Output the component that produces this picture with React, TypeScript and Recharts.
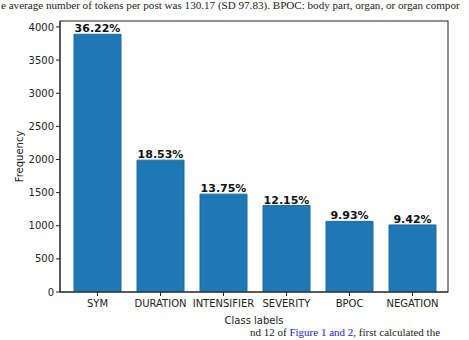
import { FC } from "react";
import * as Recharts from "recharts";
import {
  BarChart,
  Bar,
  XAxis,
  YAxis,
  LabelList,
} from "recharts";

const classLabels = ["SYM", "DURATION", "INTENSIFIER", "SEVERITY", "BPOC", "NEGATION"];
const frequencies = [3890, 1990, 1477, 1305, 1066, 1012];
const shares = ["36.22%", "18.53%", "13.75%", "12.15%", "9.93%", "9.42%"];
const yTicks = [0, 500, 1000, 1500, 2000, 2500, 3000, 3500, 4000];

const data = classLabels.map((name, i) => ({
  name,
  freq: frequencies[i],
  share: shares[i],
}));

const font = "'DejaVu Sans', sans-serif";
const tickStyle = { fontSize: 10, fill: "#222", fontFamily: font };

// box around the plot area, like matplotlib's spines
const Frame: FC = () => {
  const usePlot = (Recharts as any).usePlotArea || (Recharts as any).useOffset;
  const area = usePlot ? usePlot() : null;
  if (!area) return null;
  const x = area.x ?? area.left;
  const y = area.y ?? area.top;
  const w = area.width;
  const h = area.height;
  if (w == null || h == null) return null;
  return <rect x={x} y={y} width={w} height={h} fill="none" stroke="#222" strokeWidth={1} />;
};

const App: FC = () => {
  return (
    <div
      style={{
        position: "absolute",
        left: 0,
        top: 0,
        width: 469,
        height: 340,
        overflow: "hidden",
        background: "#fff",
      }}
    >
      <div
        style={{
          position: "absolute",
          left: 1,
          top: -1,
          whiteSpace: "nowrap",
          fontFamily: "'Liberation Serif', serif",
          fontSize: 11.1,
          color: "#222",
        }}
      >
        e average number of tokens per post was 130.17 (SD 97.83). BPOC: body part, organ, or organ compor
      </div>
      <div
        style={{
          position: "absolute",
          left: 250,
          top: 326,
          whiteSpace: "nowrap",
          fontFamily: "'Liberation Serif', serif",
          fontSize: 11,
          color: "#222",
        }}
      >
        nd 12 of <span style={{ color: "#2222cc" }}>Figure 1 and 2</span>, first calculated the
      </div>
      <div style={{ position: "absolute", left: 0, top: 0 }}>
        <BarChart
          width={469}
          height={340}
          data={data}
          margin={{ top: 21, right: 21, bottom: 0, left: 0 }}
        >
          <XAxis
            dataKey="name"
            height={48}
            padding={{ left: 6, right: 4 }}
            tick={{ ...tickStyle, dy: 2 }}
            tickSize={4}
            tickLine={{ stroke: "#222" }}
            axisLine={{ stroke: "#222" }}
            interval={0}
            label={{
              value: "Class labels",
              position: "insideBottom",
              offset: 16,
              style: { fontSize: 10, fill: "#222", fontFamily: font },
            }}
          />
          <YAxis
            width={60}
            domain={[0, 4090]}
            ticks={yTicks}
            allowDataOverflow
            tick={tickStyle}
            tickSize={4}
            tickLine={{ stroke: "#222" }}
            axisLine={{ stroke: "#222" }}
            label={{
              value: "Frequency",
              angle: -90,
              position: "insideLeft",
              offset: 19,
              style: { fontSize: 10, fill: "#222", fontFamily: font, textAnchor: "middle" },
            }}
          />
          <Bar
            dataKey="freq"
            fill="#1f77b4"
            stroke="#1d6ca4"
            strokeWidth={1}
            barSize={47}
            isAnimationActive={false}
          >
            <LabelList
              dataKey="share"
              position="top"
              offset={2}
              style={{ fontSize: 11, fontWeight: "bold", fill: "#111", fontFamily: font }}
            />
          </Bar>
          <Frame />
        </BarChart>
      </div>
    </div>
  );
};

export default App;
